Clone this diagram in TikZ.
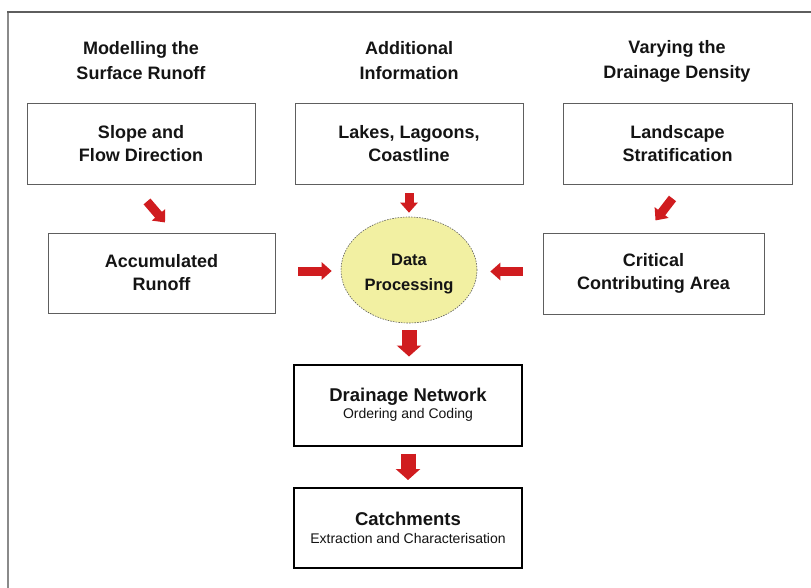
\documentclass[tikz,border=0pt]{standalone}
\usepackage{fontspec}
\setmainfont{Liberation Sans}
\usetikzlibrary{arrows.meta, shapes.geometric}

\definecolor{flowred}{HTML}{D01C1F}
\definecolor{procyellow}{HTML}{F2F0A2}
\definecolor{boxgray}{HTML}{5E5E5E}
\definecolor{framegray}{HTML}{8A8A8A}
\definecolor{ink}{HTML}{141414}

\tikzset{
  heading/.style={font=\fontsize{18}{25}\selectfont\bfseries, align=center, text=ink},
  inbox/.style={draw=boxgray, line width=0.9pt, minimum width=228pt, minimum height=81pt,
    align=center, font=\fontsize{18}{23}\selectfont\bfseries, text=ink},
  outbox/.style={draw=black, line width=2pt, minimum width=228pt, minimum height=81pt,
    align=center, text=ink, font=\fontsize{14}{18}\selectfont},
  redarrow/.style={flowred, line width=9pt, -{Triangle[length=10pt, width=17pt]}},
  bigredarrow/.style={flowred, line width=15pt, -{Triangle[length=11pt, width=24pt]}},
}

\begin{document}
\begin{tikzpicture}[x=1pt, y=-1pt]
\useasboundingbox (0,0) rectangle (811,588);
\fill[white] (0,0) rectangle (811,588);

% frame
\draw[framegray, line width=2pt] (8,588) -- (8,12);
\draw[boxgray, line width=1.3pt] (7,12) -- (811,12);

% column headings
\node[heading] (hleft) at (141,61) {Modelling the\\Surface Runoff};
\node[heading] (hmid) at (409,61) {Additional\\Information};
\node[heading] (hright) at (677,61) {Varying the\\Drainage Density};

% input boxes
\node[inbox] (slope) at (141,143.5) {Slope and\\Flow Direction};
\node[inbox] (lakes) at (409,143.5) {Lakes, Lagoons,\\Coastline};
\node[inbox, minimum width=229pt] (landscape) at (677.5,143.5) {Landscape\\Stratification};

\node[inbox, minimum width=227pt, minimum height=80pt] (accum) at (161.5,273) {Accumulated\\Runoff};
\node[inbox, minimum width=221pt] (critical) at (653.5,273.5) {Critical\\Contributing Area};

% processing step
\node[ellipse, draw=boxgray, dashed, dash pattern=on 1.5pt off 1.2pt, line width=0.6pt,
  fill=procyellow, minimum width=136pt, minimum height=106pt, inner sep=0pt] (dp) at (409,270) {};
\node[align=center, font=\fontsize{16.5}{25}\selectfont\bfseries, text=ink, yshift=-4pt]
  (dptext) at (dp) {Data\\Processing};

% results
\node[outbox] (network) at (408,405)
  {{\fontsize{18.5}{20}\selectfont\bfseries Drainage Network}\\[-1pt]
   Ordering and Coding};
\node[outbox, minimum height=80pt] (catch) at (408,528)
  {{\fontsize{18.5}{20}\selectfont\bfseries Catchments}\\
   Extraction and Characterisation};

% arrows
\draw[redarrow] ([shift={(6,17)}]slope.south) -- ([shift={(24,38)}]slope.south);
\draw[redarrow] ([shift={(-5,14)}]landscape.south) -- ([shift={(-22,36)}]landscape.south);
\draw[redarrow, shorten <=9pt, shorten >=4pt] (lakes.south) -- (lakes.south |- dp.north);
\draw[redarrow, shorten <=23pt, shorten >=9pt] ([yshift=2]accum.east) -- ([yshift=2]accum.east -| dp.west);
\draw[redarrow, shorten <=20pt, shorten >=13pt] ([yshift=2]critical.west) -- ([yshift=2]critical.west -| dp.east);
\draw[bigredarrow, shorten <=7pt, shorten >=7pt] (dp.south) -- (dp.south |- network.north);
\draw[bigredarrow, shorten <=7pt, shorten >=7pt] (network) -- (catch);

\end{tikzpicture}
\end{document}
